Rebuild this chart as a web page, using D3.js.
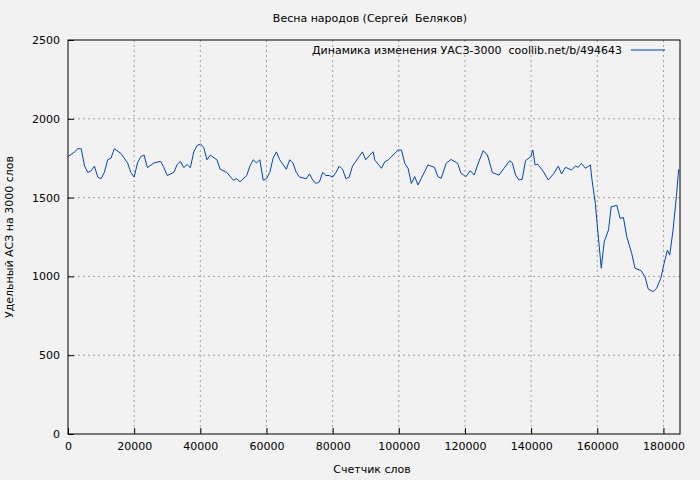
<!DOCTYPE html>
<html><head><meta charset="utf-8">
<script src="https://cdn.jsdelivr.net/npm/d3@7"></script>
<style>body{margin:0;background:#f2f2f2}svg{font-family:"DejaVu Sans",sans-serif;font-size:11px}text{white-space:pre}</style>
</head><body><svg id="c" width="700" height="480"></svg>
<script>
var xs = [0,2000,3000,4000,5000,6000,7000,8000,9000,10000,11000,12000,13000,14000,16000,18000,19000,20000,21000,22000,23000,24000,26000,28000,29000,30000,32000,33000,34000,35000,36000,37000,38000,39000,40000,41000,42000,43000,45000,46000,48000,50000,51000,52000,54000,55000,56000,57000,58000,59000,60000,61000,62000,63000,64000,66000,67000,68000,69000,70000,72000,73000,74000,75000,76000,77000,78000,79000,80000,81000,82000,83000,84000,85000,86000,87000,88000,89000,90000,
91230,92240,92740,94750,95760,96770,99790,100800,101800,102800,103800,104800,105800,108800,110800,111800,112800,114300,115800,117800,118800,120300,121600,122800,123800,125500,126800,128300,130300,131800,133500,134300,135300,136300,137300,138300,139900,140500,141200,141900,143400,145200,146900,148200,149200,150400,152200,153400,154200,155200,156400,157900,158400,159400,160400,161200,162100,163400,164200,165900,166900,167900,168900,170400,171400,173200,174400,175400,176900,177900,179200,180200,181200,181900,182900,183900,184600];
var ys = [1760,1790,1810,1810,1700,1660,1670,1700,1630,1620,1660,1740,1750,1810,1780,1720,1660,1630,1720,1760,1770,1690,1720,1730,1690,1640,1660,1710,1730,1690,1710,1690,1790,1830,1840,1820,1740,1770,1740,1680,1660,1610,1620,1600,1640,1700,1740,1720,1740,1610,1620,1660,1750,1790,1740,1680,1740,1720,1660,1630,1620,1650,1610,1590,1600,1660,1640,1640,1630,1660,1700,1680,1620,1630,1700,1730,1760,1790,1740,
1770,1791,1738,1686,1728,1738,1802,1802,1717,1686,1590,1633,1580,1707,1692,1633,1622,1717,1742,1717,1654,1633,1671,1643,1707,1798,1770,1658,1643,1686,1734,1721,1643,1612,1616,1734,1760,1802,1707,1713,1675,1612,1654,1700,1650,1692,1675,1700,1692,1717,1686,1707,1612,1464,1231,1052,1221,1295,1442,1451,1368,1374,1252,1146,1052,1037,999,920,903,924,988,1083,1167,1135,1295,1506,1680];
var xTicks = [0,20000,40000,60000,80000,100000,120000,140000,160000,180000];
var yTicks = [0,500,1000,1500,2000,2500];

var svg = d3.select("#c");
var L = 68, R = 680, T = 40, B = 434;
var x = d3.scaleLinear().domain([0,185000]).range([L,R]);
var y = d3.scaleLinear().domain([0,2500]).range([B,T]);

var g = svg.append("g");
g.selectAll(".gx").data(xTicks.slice(1)).enter().append("line")
  .attr("x1",d=>x(d)).attr("x2",d=>x(d)).attr("y1",T).attr("y2",B)
  .attr("stroke","#a0a0a0").attr("stroke-dasharray","2,3");
g.selectAll(".gy").data(yTicks.slice(1,-1)).enter().append("line")
  .attr("y1",d=>y(d)).attr("y2",d=>y(d)).attr("x1",L).attr("x2",R)
  .attr("stroke","#a0a0a0").attr("stroke-dasharray","2,3");

var xa = svg.append("g").attr("transform","translate(0,"+B+")")
  .call(d3.axisBottom(x).tickValues(xTicks).tickFormat(d3.format("d")).tickSizeInner(-6).tickSizeOuter(0).tickPadding(8));
var ya = svg.append("g").attr("transform","translate("+L+",0)")
  .call(d3.axisLeft(y).tickValues(yTicks).tickFormat(d3.format("d")).tickSizeInner(-6).tickSizeOuter(0).tickPadding(8));
[xa,ya].forEach(function(a){a.select(".domain").remove();a.selectAll("text").attr("font-size",11).attr("font-family","DejaVu Sans").attr("fill","#000");});

svg.append("rect").attr("x",L).attr("y",T).attr("width",R-L).attr("height",B-T)
  .attr("fill","none").attr("stroke","#000");

var line = d3.line().x((d,i)=>x(xs[i])).y(d=>y(d));
svg.append("path").datum(ys).attr("d",line).attr("fill","none").attr("stroke","#0045b5").attr("stroke-width",1);

svg.append("text").attr("x",370).attr("y",22).attr("text-anchor","middle").text("Весна народов (Сергей  Беляков)");
svg.append("text").attr("x",622).attr("y",54).attr("text-anchor","end").text("Динамика изменения УАСЗ-3000  coollib.net/b/494643");
svg.append("line").attr("x1",631).attr("x2",665).attr("y1",50).attr("y2",50).attr("stroke","#0045b5");
svg.append("text").attr("x",372).attr("y",473).attr("text-anchor","middle").text("Счетчик слов");
svg.append("text").attr("transform","translate(13,237) rotate(-90)").attr("text-anchor","middle").text("Удельный АСЗ на 3000 слов");
</script></body></html>
